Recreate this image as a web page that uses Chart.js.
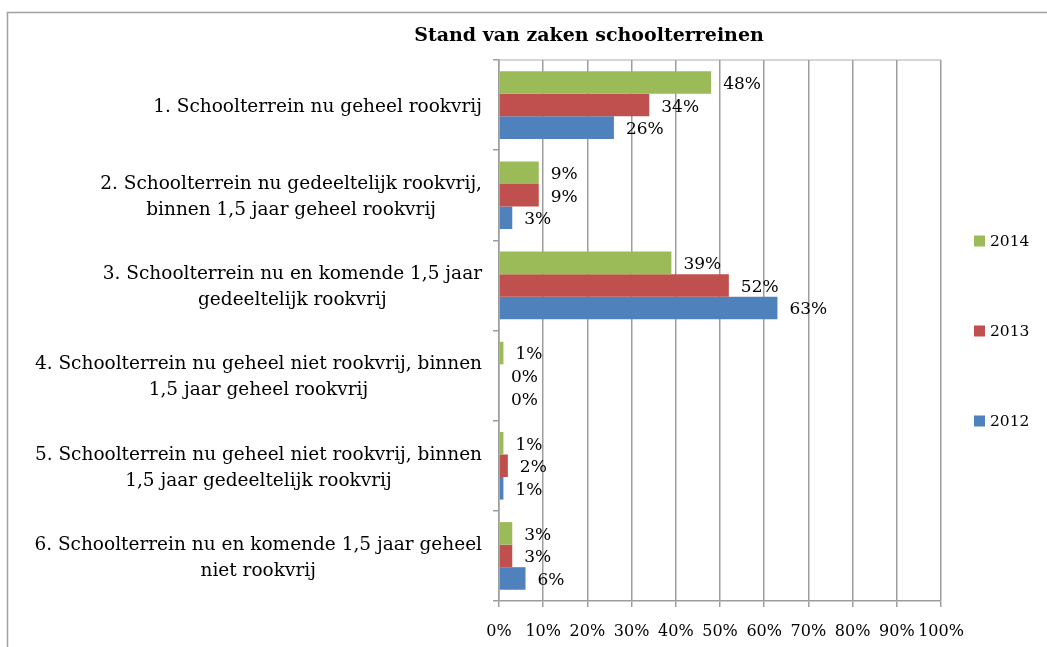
<!DOCTYPE html>
<html>
<head>
<meta charset="utf-8">
<script src="https://cdn.jsdelivr.net/npm/chart.js@4.4.0/dist/chart.umd.min.js"></script>
<style>
  html, body { margin: 0; padding: 0; background: #fff; }
  #wrap { width: 1047px; height: 647px; }
</style>
</head>
<body>
<div id="wrap"><canvas id="myChart"></canvas></div>
<script>
let categories = [
    ['1. Schoolterrein nu geheel rookvrij'],
    ['2. Schoolterrein nu gedeeltelijk rookvrij,', 'binnen 1,5 jaar geheel rookvrij'],
    ['3. Schoolterrein nu en komende 1,5 jaar', 'gedeeltelijk rookvrij'],
    ['4. Schoolterrein nu geheel niet rookvrij, binnen', '1,5 jaar geheel rookvrij'],
    ['5. Schoolterrein nu geheel niet rookvrij, binnen', '1,5 jaar gedeeltelijk rookvrij'],
    ['6. Schoolterrein nu en komende 1,5 jaar geheel', 'niet rookvrij']
]
let years = ['2014', '2013', '2012']
let data2014 = [48, 9, 39, 1, 1, 3]
let data2013 = [34, 9, 52, 0, 2, 3]
let data2012 = [26, 3, 63, 0, 1, 6]
let colorHex = ['#9BBB59', '#C0504D', '#4F81BD']
let xTicks = [0, 10, 20, 30, 40, 50, 60, 70, 80, 90, 100]
let titel = 'Stand van zaken schoolterreinen'

let fontFam = '"DejaVu Serif", serif'
let gridKleur = '#9d9d9d'

// kader, titel, labels en legenda zelf tekenen
let tekenPlugin = {
    id: 'teken',
    beforeDraw(chart) {
        let ctx = chart.ctx
        ctx.save()
        ctx.strokeStyle = '#a0a0a0'
        ctx.lineWidth = 1.5
        ctx.strokeRect(7.5, 12.5, 1200, 800)
        // lichte bovenrand van het plotvlak
        let area = chart.chartArea
        ctx.strokeStyle = '#c8c8c8'
        ctx.beginPath()
        ctx.moveTo(area.left, area.top)
        ctx.lineTo(area.right, area.top)
        ctx.stroke()
        ctx.restore()
    },
    afterDraw(chart) {
        let ctx = chart.ctx
        let area = chart.chartArea
        let yScale = chart.scales.y
        ctx.save()

        // titel
        ctx.fillStyle = '#000'
        ctx.font = 'bold 19px ' + fontFam
        ctx.textAlign = 'center'
        ctx.textBaseline = 'middle'
        ctx.fillText(titel, 589, 36)

        // categorie labels: blok rechts uitgelijnd, regels gecentreerd
        ctx.font = '18.5px ' + fontFam
        categories.forEach(function(lines, i) {
            let yMid = yScale.getPixelForValue(i)
            let breed = Math.max.apply(null, lines.map(l => ctx.measureText(l).width))
            let xMid = area.left - 17 - breed / 2
            let lh = 26
            lines.forEach(function(l, j) {
                ctx.fillText(l, xMid, yMid + 2 + (j - (lines.length - 1) / 2) * lh)
            })
        })

        // waarden naast de staven
        ctx.font = '17px ' + fontFam
        ctx.textAlign = 'left'
        chart.data.datasets.forEach(function(ds, di) {
            chart.getDatasetMeta(di).data.forEach(function(bar, i) {
                ctx.fillText(ds.data[i] + '%', bar.x + 12, bar.y + 2)
            })
        })

        // legenda
        ctx.font = '15.5px ' + fontFam
        let midY = (area.top + area.bottom) / 2
        chart.data.datasets.forEach(function(ds, di) {
            let y = midY + (di - 1) * 90
            ctx.fillStyle = ds.backgroundColor
            ctx.fillRect(area.right + 33, y - 5, 11, 11)
            ctx.fillStyle = '#000'
            ctx.fillText(ds.label, area.right + 49, y + 1)
        })
        ctx.restore()
    }
}

let chartSchool = document.getElementById('myChart').getContext('2d')
let myChart = new Chart(chartSchool, {
    type: 'bar',
    data: {
        labels: categories,
        datasets: [
            { label: years[0], data: data2014, backgroundColor: colorHex[0] },
            { label: years[1], data: data2013, backgroundColor: colorHex[1] },
            { label: years[2], data: data2012, backgroundColor: colorHex[2] }
        ]
    },
    options: {
        indexAxis: 'y',
        responsive: true,
        maintainAspectRatio: false,
        animation: false,
        datasets: {
            bar: { categoryPercentage: 0.75, barPercentage: 1.0 }
        },
        layout: {
            padding: { left: 0, right: 106, top: 60, bottom: 0 }
        },
        plugins: {
            legend: { display: false },
            title: { display: false },
            tooltip: { enabled: false }
        },
        scales: {
            x: {
                min: 0,
                max: 100,
                afterBuildTicks: function(scale) {
                    scale.ticks = xTicks.map(v => ({ value: v }))
                },
                afterFit: function(scale) {
                    scale.height = 46
                },
                ticks: {
                    callback: v => v + '%',
                    color: '#000',
                    font: { family: fontFam, size: 16 },
                    padding: 15,
                    maxRotation: 0,
                    autoSkip: false
                },
                grid: {
                    color: gridKleur,
                    lineWidth: 1.5,
                    tickLength: 6,
                    tickColor: gridKleur
                },
                border: { color: gridKleur, width: 1.5 }
            },
            y: {
                afterFit: function(scale) {
                    scale.width = 499
                },
                ticks: {
                    display: false
                },
                grid: {
                    offset: true,
                    drawOnChartArea: false,
                    tickLength: 6,
                    color: gridKleur,
                    lineWidth: 1.5
                },
                border: { color: gridKleur, width: 1.5 }
            }
        }
    },
    plugins: [tekenPlugin]
})
</script>
</body>
</html>
